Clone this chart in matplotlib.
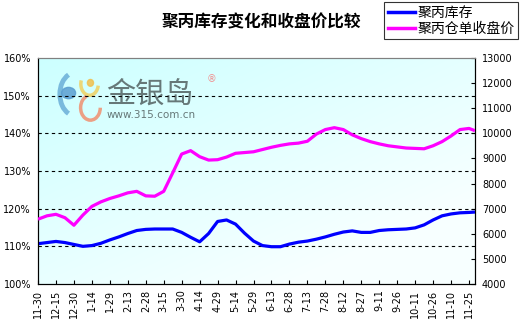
import numpy as np
import matplotlib
matplotlib.use("Agg")
import matplotlib.pyplot as plt
from matplotlib.patches import Ellipse, Arc
from matplotlib.lines import Line2D

plt.rcParams['font.family'] = ['Noto Sans CJK SC', 'DejaVu Sans']

title = "聚丙库存变化和收盘价比较"
series_names = ["聚丙库存", "聚丙仓单收盘价"]
tick_labels = ["11-30", "12-15", "12-30", "1-14", "1-29", "2-13", "2-28", "3-15",
               "3-30", "4-14", "4-29", "5-14", "5-29", "6-13", "6-28", "7-13",
               "7-28", "8-12", "8-27", "9-11", "9-26", "10-11", "10-26", "11-10", "11-25"]
left_ticks = [100, 110, 120, 130, 140, 150, 160]
right_ticks = [4000, 5000, 6000, 7000, 8000, 9000, 10000, 11000, 12000, 13000]

# days since 11-30, sampled every half tick (7.5 days) plus final point
days = list(np.arange(49) * 7.5) + [365]

inventory_pct = [110.7, 111.0, 111.3, 111.0, 110.5, 110.0, 110.2, 110.8, 111.7, 112.5,
                 113.4, 114.2, 114.5, 114.6, 114.6, 114.6, 113.7, 112.4, 111.2, 113.4,
                 116.6, 117.0, 115.9, 113.5, 111.4, 110.2, 109.9, 109.9, 110.6, 111.1,
                 111.4, 111.9, 112.5, 113.2, 113.8, 114.1, 113.7, 113.7, 114.2, 114.4,
                 114.5, 114.6, 114.9, 115.7, 117.0, 118.1, 118.6, 118.9, 119.0, 119.1]

close_price = [6580, 6715, 6775, 6640, 6340, 6745, 7090, 7270, 7405, 7510,
               7630, 7690, 7510, 7495, 7690, 8425, 9175, 9310, 9070, 8935,
               8950, 9055, 9205, 9235, 9265, 9355, 9445, 9520, 9580, 9610,
               9685, 9970, 10150, 10225, 10150, 9940, 9790, 9670, 9580, 9505,
               9460, 9415, 9400, 9385, 9505, 9670, 9895, 10150, 10195, 10105]

W, H = 524, 335
fig = plt.figure(figsize=(W / 100, H / 100), dpi=100)
fig.patch.set_facecolor("white")
ax = fig.add_axes([38 / W, 1 - 284 / H, (475 - 38) / W, (284 - 58) / H])
ax2 = ax.twinx()

xmax = 365
ax.set_xlim(0, xmax)
ax.set_ylim(100, 160)
ax2.set_ylim(4000, 13000)

# gradient background: cyan at top-left, near white toward bottom-right
gx, gy = np.meshgrid(np.linspace(0, 1, 200), np.linspace(0, 1, 200))
t = np.clip((gx * 0.7 + gy * 0.8) / 1.2, 0, 1)
c0 = np.array([0.80, 1.0, 1.0])
c1 = np.array([0.97, 1.0, 1.0])
img = c0[None, None, :] * (1 - t[..., None]) + c1[None, None, :] * t[..., None]
ax.imshow(img, extent=[0, xmax, 100, 160], aspect='auto', origin='upper', zorder=0)

# watermark logo
ax.text(0.155, 0.836, "金银岛", transform=ax.transAxes, fontsize=21, color="#667878",
        va='center', ha='left', zorder=1)
ax.text(0.156, 0.748, "www.315.com.cn", transform=ax.transAxes, fontsize=7.5, color="#667878",
        va='center', ha='left', family='DejaVu Sans', zorder=1)
ax.text(0.385, 0.905, "®", transform=ax.transAxes, fontsize=7, color="#f09090",
        va='center', ha='left', family='DejaVu Sans', zorder=1)
ax.add_patch(Arc((0.085, 0.84), 0.07, 0.19, theta1=100, theta2=260, transform=ax.transAxes,
                 color="#6aaed8", lw=3.5, alpha=0.85, zorder=1))
ax.add_patch(Ellipse((0.07, 0.845), 0.032, 0.05, transform=ax.transAxes,
                     color="#5a9ed0", alpha=0.85, zorder=1))
ax.add_patch(Arc((0.118, 0.885), 0.04, 0.1, theta1=140, theta2=340, transform=ax.transAxes,
                 color="#f0d060", lw=2.5, alpha=0.85, zorder=1))
ax.add_patch(Ellipse((0.12, 0.89), 0.014, 0.03, transform=ax.transAxes,
                     color="#f0c050", alpha=0.85, zorder=1))
ax.add_patch(Arc((0.12, 0.78), 0.045, 0.11, theta1=100, theta2=360, transform=ax.transAxes,
                 color="#f09070", lw=2.5, alpha=0.85, zorder=1))

# gridlines
for v in left_ticks[1:-1]:
    ax.axhline(v, color="black", lw=0.8, ls=(0, (3, 3)), zorder=2)

ax.plot(days, inventory_pct, color="#0000FF", lw=2.3, zorder=3, solid_capstyle='butt')
ax2.plot(days, close_price, color="#FF00FF", lw=2.3, zorder=3, solid_capstyle='butt')

ax.set_xticks(np.arange(len(tick_labels)) * 15)
ax.set_xticklabels(tick_labels, rotation=90, fontsize=7, family='DejaVu Sans')
ax.set_yticks(left_ticks)
ax.set_yticklabels([f"{v}%" for v in left_ticks], fontsize=7, family='DejaVu Sans')
ax2.set_yticks(right_ticks)
ax2.set_yticklabels([str(v) for v in right_ticks], fontsize=7, family='DejaVu Sans')

ax.tick_params(axis='x', direction='in', length=3, width=0.8, pad=4)
ax.tick_params(axis='y', length=0, pad=5)
ax2.tick_params(axis='y', direction='in', length=3, width=0.8, pad=5)

for a in (ax, ax2):
    for s in a.spines.values():
        s.set_color("black")
        s.set_linewidth(0.8)
    a.spines['top'].set_color("#808080")
ax2.patch.set_visible(False)

fig.text(261 / W, 1 - 22 / H, title, ha='center', va='center', fontsize=12, fontweight='bold')

handles = [Line2D([], [], color="#0000FF", lw=2.5), Line2D([], [], color="#FF00FF", lw=2.5)]
leg = fig.legend(handles, series_names, loc='upper right', bbox_to_anchor=(518 / W, 1 - 2 / H),
                 fontsize=10, frameon=True, fancybox=False, handlelength=2.0, handletextpad=0.15,
                 borderpad=0.25, labelspacing=0.15, borderaxespad=0)
leg.get_frame().set_edgecolor("black")
leg.get_frame().set_linewidth(0.8)

fig.savefig("out.png", dpi=100, facecolor="white")
